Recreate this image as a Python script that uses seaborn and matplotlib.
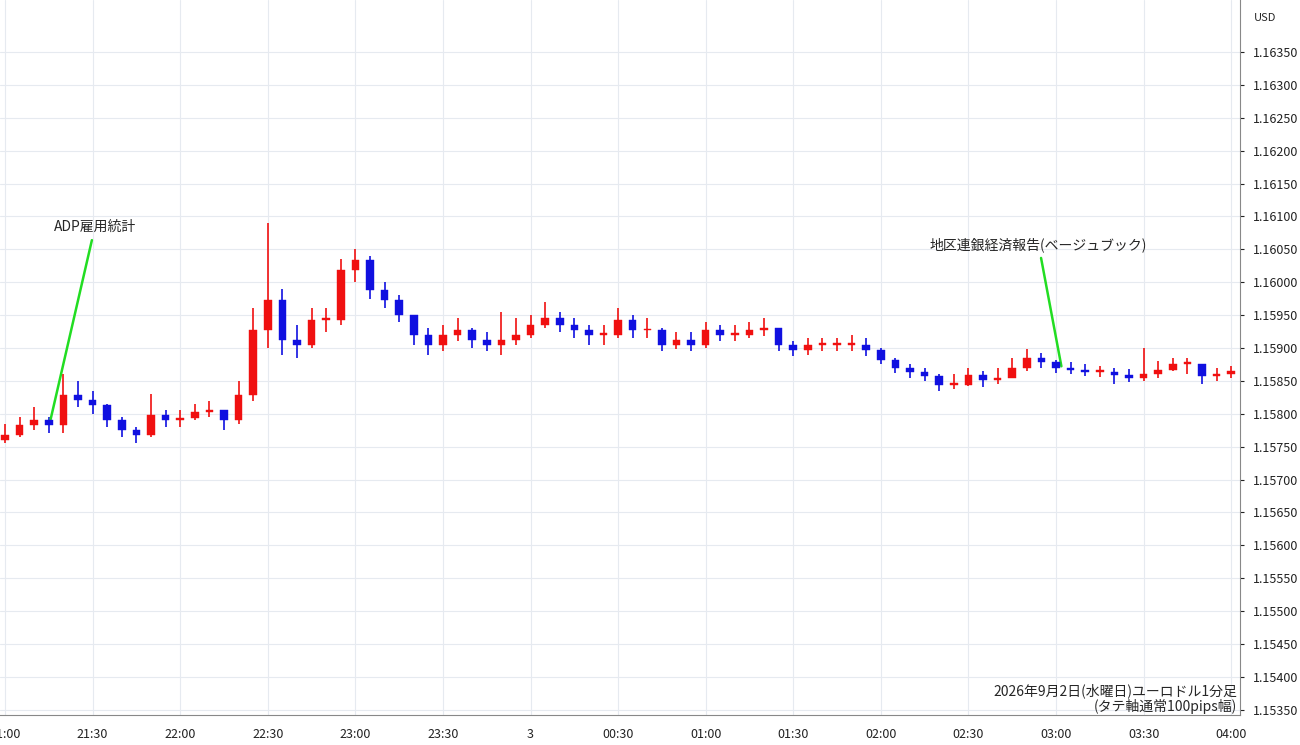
import matplotlib
matplotlib.use("Agg")
import matplotlib.pyplot as plt
import seaborn as sns
import numpy as np
import pandas as pd

# 5-minute closes from 21:00 (minutes since 21:00)
minutes = list(range(0, 425, 5))
closes = [1.15768,1.15783,1.15790,1.15783,1.15829,1.15821,1.15814,1.15790,1.15776,1.15768,
          1.15798,1.15790,1.15793,1.15803,1.15806,1.15790,1.15829,1.15927,1.15973,1.15912,
          1.15905,1.15943,1.15943,1.16019,1.16034,1.15988,1.15973,1.15950,1.15920,1.15905,
          1.15920,1.15927,1.15912,1.15905,1.15912,1.15920,1.15935,1.15946,1.15935,1.15927,
          1.15920,1.15920,1.15943,1.15927,1.15927,1.15905,1.15912,1.15905,1.15927,1.15920,
          1.15920,1.15927,1.15930,1.15905,1.15897,1.15905,1.15905,1.15905,1.15905,1.15897,
          1.15882,1.15870,1.15864,1.15858,1.15844,1.15844,1.15859,1.15852,1.15855,1.15870,
          1.15885,1.15879,1.15870,1.15867,1.15864,1.15864,1.15859,1.15855,1.15861,1.15867,
          1.15876,1.15876,1.15858,1.15861,1.15865]
highs = [1.15785,1.15795,1.15810,1.15795,1.15860,1.15850,1.15835,1.15815,1.15795,1.15780,
         1.15830,1.15805,1.15805,1.15815,1.15820,1.15805,1.15850,1.15960,1.16090,1.15990,
         1.15935,1.15960,1.15960,1.16035,1.16050,1.16040,1.16000,1.15980,1.15945,1.15930,
         1.15935,1.15945,1.15930,1.15925,1.15955,1.15945,1.15950,1.15970,1.15955,1.15945,
         1.15935,1.15935,1.15960,1.15950,1.15945,1.15930,1.15925,1.15925,1.15940,1.15935,
         1.15935,1.15940,1.15945,1.15930,1.15910,1.15915,1.15915,1.15915,1.15920,1.15915,
         1.15900,1.15885,1.15875,1.15870,1.15860,1.15860,1.15870,1.15865,1.15870,1.15885,
         1.15898,1.15892,1.15882,1.15878,1.15875,1.15872,1.15870,1.15868,1.15900,1.15880,
         1.15885,1.15885,1.15875,1.15870,1.15872]
lows = [1.15755,1.15765,1.15775,1.15770,1.15770,1.15810,1.15800,1.15780,1.15765,1.15755,
        1.15765,1.15780,1.15780,1.15790,1.15795,1.15775,1.15785,1.15820,1.15900,1.15890,
        1.15885,1.15900,1.15925,1.15935,1.16000,1.15975,1.15960,1.15940,1.15905,1.15890,
        1.15895,1.15910,1.15900,1.15895,1.15890,1.15905,1.15915,1.15930,1.15925,1.15915,
        1.15905,1.15905,1.15915,1.15915,1.15915,1.15895,1.15898,1.15895,1.15900,1.15910,
        1.15910,1.15915,1.15918,1.15895,1.15888,1.15890,1.15895,1.15895,1.15895,1.15888,
        1.15875,1.15862,1.15855,1.15850,1.15835,1.15838,1.15842,1.15840,1.15845,1.15855,
        1.15865,1.15870,1.15862,1.15860,1.15858,1.15856,1.15845,1.15848,1.15850,1.15855,
        1.15865,1.15860,1.15845,1.15850,1.15855]
opens = [1.15760] + closes[:-1]

tick_minutes = list(range(0, 421, 30))
tick_labels = ["21:00","21:30","22:00","22:30","23:00","23:30","3","00:30","01:00",
               "01:30","02:00","02:30","03:00","03:30","04:00"]
yticks = [round(1.15350 + 0.0005*i, 5) for i in range(21)]

df = pd.DataFrame({"m": minutes, "o": opens, "h": highs, "l": lows, "c": closes})
df["up"] = df["c"] >= df["o"]

sns.set_style("white")
plt.rcParams['font.family'] = ['Noto Sans CJK JP', 'DejaVu Sans']

fig = plt.figure(figsize=(13, 7.45), dpi=100)
ax = fig.add_axes([0, 30/745, 1240/1300, 715/745])

red, blue = "#f01010", "#1010e0"
for _, r in df.iterrows():
    col = red if r.up else blue
    ax.vlines(r.m, r.l, r.h, color=col, lw=1.2, zorder=3)
    lo, hi = min(r.o, r.c), max(r.o, r.c)
    ax.bar(r.m, max(hi-lo, 0.00002), bottom=lo, width=2.6, color=col, edgecolor=col, lw=0.3, zorder=4)

ax.set_xlim(-1.7, 423)
ax.set_ylim(1.15342, 1.16429)
ax.set_xticks(tick_minutes)
ax.set_xticklabels(tick_labels, fontsize=9)
ax.set_yticks(yticks)
ax.set_yticklabels([f"{v:.5f}" for v in yticks], fontsize=9)
ax.yaxis.tick_right()
ax.grid(True, color="#e6eaf0", lw=0.8)
ax.set_axisbelow(True)
for s in ["top", "left"]:
    ax.spines[s].set_visible(False)
ax.spines["right"].set_color("#888888")
ax.spines["bottom"].set_color("#888888")
ax.tick_params(axis="both", length=3, colors="#222222", pad=6)

fig.text(1265/1300, 1-18/745, "USD", fontsize=8, ha="center", va="center")

# annotations
ax.annotate("ADP雇用統計", xy=(15.4, 1.15787), xytext=(30.8, 1.16073),
            ha="center", va="bottom", fontsize=10,
            arrowprops=dict(arrowstyle="-", color="#22dd22", lw=1.8))
ax.annotate("地区連銀経済報告(ベージュブック)", xy=(362, 1.15868), xytext=(354, 1.16046),
            ha="center", va="bottom", fontsize=10,
            arrowprops=dict(arrowstyle="-", color="#22dd22", lw=1.8))
ax.text(422, 1.15367, "2026年9月2日(水曜日)ユーロドル1分足\n(タテ軸通常100pips幅)",
        ha="right", va="center", fontsize=10, linespacing=1.05, zorder=6)

fig.savefig("out.png", dpi=100)
